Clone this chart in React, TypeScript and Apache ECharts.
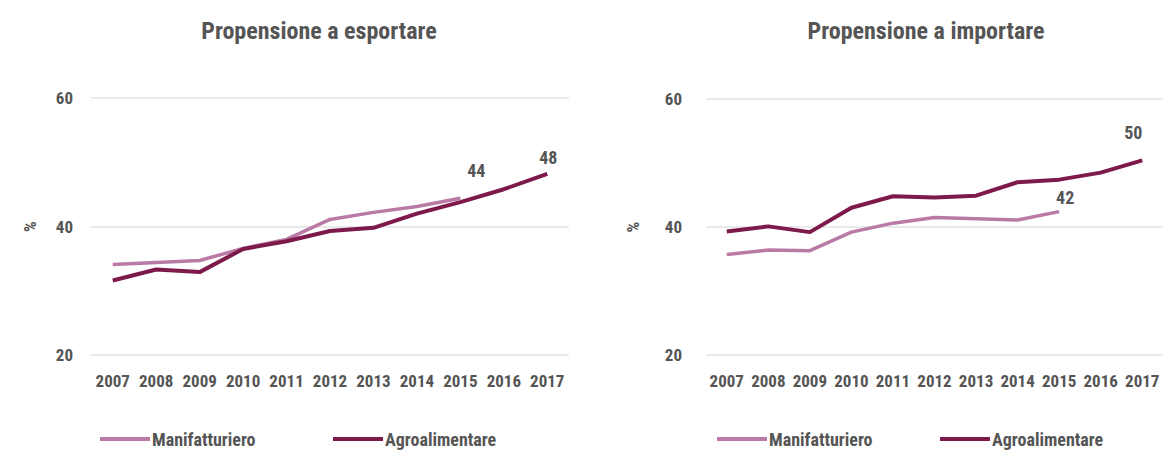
import React, { useEffect, useRef } from "react";
import * as echarts from "echarts";

const years = ["2007", "2008", "2009", "2010", "2011", "2012", "2013", "2014", "2015", "2016", "2017"];
const exportManif = [34.1, 34.4, 34.7, 36.6, 38.0, 41.1, 42.2, 43.1, 44.4, null, null];
const exportAgro = [31.6, 33.3, 32.9, 36.5, 37.7, 39.3, 39.8, 42.0, 43.8, 45.8, 48.2];
const importManif = [35.7, 36.4, 36.3, 39.2, 40.6, 41.5, 41.3, 41.1, 42.4, null, null];
const importAgro = [39.3, 40.1, 39.2, 43.0, 44.8, 44.6, 44.9, 47.0, 47.4, 48.5, 50.4];
const yTicks = [20, 40, 60];
const titles = ["Propensione a esportare", "Propensione a importare"];
const seriesNames = ["Manifatturiero", "Agroalimentare"];
const endLabels = { exportManif: "44", exportAgro: "48", importManif: "42", importAgro: "50" };

const FONT = "'Roboto Condensed', 'Open Sans Condensed', sans-serif";
const LIGHT = "#b97aa5";
const DARK = "#7d1a4b";
const TEXT = "#555555";

export default function App() {
  const ref = useRef<HTMLDivElement>(null);
  useEffect(() => {
    if (!ref.current) return;
    const chart = echarts.init(ref.current, null, { renderer: "svg" });
    const grids = [
      { left: 91, top: 98, width: 478, height: 257 },
      { left: 706, top: 99, width: 457, height: 256 },
    ];
    const labelFor = (data: (number | null)[], text: string, offset: number[]) => {
      const last = data.reduce((acc: number, d, j) => (d != null ? j : acc), 0);
      return data.map((v, i) => {
        if (i !== last) return v;
        return {
          value: v,
          label: {
            show: true,
            formatter: text,
            position: "top",
            offset,
            color: TEXT,
            fontFamily: FONT,
            fontWeight: "bold",
            fontSize: 18,
          },
        };
      });
    };
    const lineSeries = (name: string, color: string, data: any[], idx: number, width: number) => ({
      name,
      type: "line",
      xAxisIndex: idx,
      yAxisIndex: idx,
      data,
      symbol: "circle",
      symbolSize: 0,
      showSymbol: true,
      connectNulls: false,
      lineStyle: { color, width },
      itemStyle: { color },
      z: name === seriesNames[1] ? 3 : 2,
    });
    const legend = (name: string, left: number) => ({
      data: [name],
      left,
      top: 430,
      icon: "rect",
      itemWidth: 50,
      itemHeight: 4,
      itemGap: 2,
      padding: 0,
      textStyle: { color: TEXT, fontFamily: FONT, fontWeight: "bold", fontSize: 18, padding: [0, 0, 0, -3] },
      selectedMode: false,
    });
    const titleStyle = { color: TEXT, fontFamily: FONT, fontWeight: "bold", fontSize: 24 };
    const tickStyle = { color: TEXT, fontFamily: FONT, fontWeight: "bold", fontSize: 17 };
    chart.setOption({
      animation: false,
      backgroundColor: "#ffffff",
      title: [
        { text: titles[0], left: 314, top: 14, textAlign: "center", textStyle: titleStyle },
        { text: titles[1], left: 921, top: 14, textAlign: "center", textStyle: titleStyle },
      ],
      legend: [
        legend(seriesNames[0], 100),
        legend(seriesNames[1], 333),
        legend(seriesNames[0], 717),
        legend(seriesNames[1], 940),
      ],
      grid: grids,
      xAxis: [0, 1].map((i) => ({
        type: "category",
        gridIndex: i,
        data: years,
        boundaryGap: true,
        axisLine: { show: false },
        axisTick: { show: false },
        axisLabel: { ...tickStyle, margin: 17, interval: 0 },
      })),
      yAxis: [0, 1].map((i) => ({
        type: "value",
        gridIndex: i,
        min: yTicks[0],
        max: yTicks[yTicks.length - 1],
        interval: 20,
        name: "%",
        nameLocation: "middle",
        nameRotate: 90,
        nameGap: i === 0 ? 53 : 65,
        nameTextStyle: tickStyle,
        axisLine: { show: false },
        axisTick: { show: false },
        axisLabel: { ...tickStyle, margin: i === 0 ? 18 : 24 },
        splitLine: { lineStyle: { color: "#e3e3e3", width: 1.5 } },
      })),
      series: [
        lineSeries(seriesNames[0], LIGHT, labelFor(exportManif, endLabels.exportManif, [16, -14]), 0, 3.5),
        lineSeries(seriesNames[1], DARK, labelFor(exportAgro, endLabels.exportAgro, [1, -2]), 0, 4),
        lineSeries(seriesNames[0], LIGHT, labelFor(importManif, endLabels.importManif, [6, 0]), 1, 3.5),
        lineSeries(seriesNames[1], DARK, labelFor(importAgro, endLabels.importAgro, [-9, -14]), 1, 4),
      ],
    });
    return () => chart.dispose();
  }, []);
  return (
    <div
      ref={ref}
      style={{ position: "absolute", left: 0, top: 0, width: 1168, height: 457 }}
    />
  );
}
